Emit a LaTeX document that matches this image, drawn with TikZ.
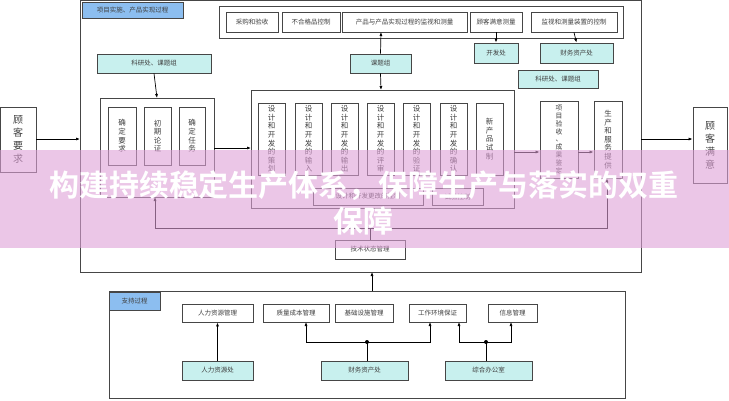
\documentclass[tikz,border=0pt]{standalone}
\usepackage{fontspec}
\setmainfont{Noto Sans CJK SC}
\newfontfamily\bannerfont{Noto Sans CJK SC Bold}
\usetikzlibrary{arrows.meta}
\definecolor{cy}{RGB}{200,240,238}
\definecolor{lb}{RGB}{140,190,240}
\definecolor{ln}{RGB}{70,70,70}
\tikzset{
  box/.style={draw=ln,line width=0.8pt,fill=white,inner sep=0pt,font=\fontsize{6.5}{7}\selectfont,text=black!75},
  cbox/.style={box,fill=cy},
  lbox/.style={box,fill=lb},
  grp/.style={draw=ln,line width=0.6pt},
  vt/.style={align=center,font=\fontsize{7.5}{8.6}\selectfont},
  arr/.style={draw=black,line width=0.7pt,-{Latex[length=4pt,width=3pt]}},
  ln/.style={draw=black,line width=0.7pt}
}
\newcommand{\bx}[7]{\node[#6,minimum width={(#4-#2)*1pt},minimum height={(#5-#3)*1pt}] (#1) at ({(#2+#4)/2*1pt},{-(#3+#5)/2*1pt}) {#7};}
\begin{document}
\begin{tikzpicture}[x=1pt,y=-1pt]
\useasboundingbox[fill=white] (0,0) rectangle (729,400);
% main container
\draw[grp] (80,0) rectangle (641,272);
\bx{lab1}{82}{2}{183}{18}{lbox,anchor=center}{项目实施、产品实现过程}
\draw[grp] (219,6) rectangle (623,38);
\bx{t1}{226}{12}{278}{32}{box}{采购和验收}
\bx{t2}{282}{12}{340}{32}{box}{不合格品控制}
\bx{t3}{342}{12}{467}{32}{box}{产品与产品实现过程的监视和测量}
\bx{t4}{470}{12}{522}{32}{box}{顾客满意测量}
\bx{t5}{531}{12}{617}{32}{box}{监视和测量装置的控制}
\bx{c1}{474}{43}{518}{63}{cbox}{开发处}
\bx{c2}{540}{43}{613}{63}{cbox}{财务资产处}
\bx{c3}{518}{70}{598}{88}{cbox}{科研处、课题组}
\bx{c4}{97}{54}{211}{73}{cbox}{科研处、课题组}
\bx{c5}{350}{54}{411}{73}{cbox}{课题组}
\draw[arr] (t4.south) -- (c1.north);
\draw[arr] (t5.south) -- (c2.north);
\draw[arr] (c5.north) -- (381,32);
% left group
\draw[grp] (100,98) rectangle (214,197);
\draw[arr] (c4.south) -- (157,98);
\bx{a1}{108}{107}{136}{165}{box,vt}{确\\定\\要\\求}
\bx{a2}{144}{107}{171}{165}{box,vt}{初\\期\\论\\证}
\bx{a3}{179}{107}{205}{165}{box,vt}{确\\定\\任\\务}
% middle group
\draw[grp] (251,90) rectangle (514,208);
\draw[arr] (c5.south) -- (381,90);
\draw[arr] (214,148) -- (251,148);
\bx{m1}{258}{103}{285}{175}{box,vt}{设\\计\\和\\开\\发\\的\\策\\划}
\bx{m2}{295}{103}{322}{175}{box,vt}{设\\计\\和\\开\\发\\的\\输\\入}
\bx{m3}{331}{103}{358}{175}{box,vt}{设\\计\\和\\开\\发\\的\\输\\出}
\bx{m4}{367}{103}{394}{175}{box,vt}{设\\计\\和\\开\\发\\的\\评\\审}
\bx{m5}{403}{103}{430}{175}{box,vt}{设\\计\\和\\开\\发\\的\\验\\证}
\bx{m6}{440}{103}{467}{175}{box,vt}{设\\计\\和\\开\\发\\的\\确\\认}
\bx{m7}{476}{103}{503}{175}{box,vt}{新\\产\\品\\试\\制}
\bx{m8}{313}{188}{423}{205}{box}{设计和开发更改的控制}
\bx{m9}{432}{188}{483}{205}{box}{试验控制}
% right
\bx{r1}{540}{101}{578}{178}{box,vt,font=\fontsize{6.8}{7.8}\selectfont}{项\\目\\验\\收\\、\\成\\果\\鉴\\定}
\bx{r2}{594}{101}{622}{178}{box,vt}{生\\产\\和\\服\\务\\提\\供}
\draw[arr] (514,152) -- (r1.west |- 0,152);
\draw[arr] (r1.east |- 0,152) -- (r2.west |- 0,152);
% customers
\bx{k1}{0}{107}{36}{172}{box,vt,font=\fontsize{10}{13}\selectfont}{顾\\客\\要\\求}
\bx{k2}{693}{107}{727}{183}{box,vt,font=\fontsize{10}{13}\selectfont}{顾\\客\\满\\意}
\draw[arr] (k1.east |- 0,139) -- (80,139);
\draw[arr] (641,139) -- (k2.west |- 0,139);
% feedback
\bx{tk}{335}{240}{405}{259}{box}{技术状态管理}
\draw[ln] (tk.north) -- (370,228);
\draw[arr] (370,228) -- (155,228) -- (155,197);
\draw[arr] (370,228) -- (607,228) -- (r2.south -| 607,0);
% support
\draw[grp] (109,291) rectangle (625,398);
\bx{lab2}{109}{292}{160}{310}{lbox}{支持过程}
\draw[arr] (372,291) -- (372,272);
\bx{s1}{182}{304}{253}{322}{box}{人力资源管理}
\bx{s2}{263}{304}{329}{322}{box}{质量成本管理}
\bx{s3}{335}{304}{393}{322}{box}{基础设施管理}
\bx{s4}{409}{304}{466}{322}{box}{工作环境保证}
\bx{s5}{488}{304}{537}{322}{box}{信息管理}
\bx{d1}{182}{361}{253}{380}{cbox}{人力资源处}
\bx{d2}{321}{361}{408}{380}{cbox}{财务资产处}
\bx{d3}{445}{361}{532}{380}{cbox}{综合办公室}
\draw[arr] (d1.north) -- (s1.south);
\coordinate (j1) at (367,342);
\coordinate (j2) at (486,342);
\draw[ln] (d2.north -| j1) -- (j1);
\draw[arr] (j1) -- (306,342) -- (306,322);
\draw[arr] (j1) -- (430,342) -- (430,322);
\fill (j1) circle (2pt);
\draw[ln] (d3.north -| j2) -- (j2);
\draw[arr] (j2) -- (459,342) -- (459,322);
\draw[arr] (j2) -- (511,342) -- (511,322);
\fill (j2) circle (2pt);
% banner
\fill[fill={rgb,255:red,222;green,160;blue,215},opacity=0.6] (0,150) rectangle (729,248);
\node[text=white,font=\bannerfont\fontsize{30}{36}\selectfont,align=center] (ban) at (364,203) {构建持续稳定生产体系，保障生产与落实的双重\\保障};
\end{tikzpicture}
\end{document}
